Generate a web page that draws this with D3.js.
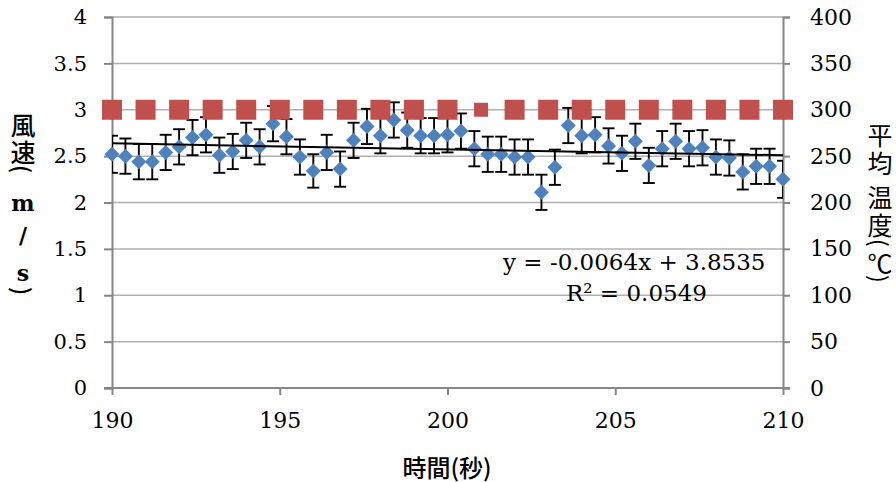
<!DOCTYPE html>
<html><head><meta charset="utf-8">
<script src="https://cdn.jsdelivr.net/npm/d3@7"></script>
<style>
html,body{margin:0;padding:0;background:#fff;}
svg{display:block;}
</style></head>
<body>
<svg id="chart" width="896" height="482"></svg>
<script>
// ---- data ----
const times = [190.0,190.4,190.8,191.2,191.6,192.0,192.4,192.8,193.2,193.6,194.0,194.4,194.8,195.2,195.6,196.0,196.4,196.8,197.2,197.6,198.0,198.4,198.8,199.2,199.6,200.0,200.4,200.8,201.2,201.6,202.0,202.4,202.8,203.2,203.6,204.0,204.4,204.8,205.2,205.6,206.0,206.4,206.8,207.2,207.6,208.0,208.4,208.8,209.2,209.6,210.0];
const windSpeed = [2.52,2.50,2.44,2.44,2.54,2.60,2.70,2.73,2.51,2.55,2.67,2.60,2.85,2.71,2.49,2.34,2.54,2.36,2.67,2.82,2.72,2.89,2.78,2.72,2.72,2.73,2.77,2.58,2.52,2.52,2.49,2.49,2.11,2.38,2.83,2.72,2.73,2.61,2.53,2.66,2.40,2.58,2.66,2.58,2.59,2.49,2.48,2.33,2.39,2.39,2.25];
const windError = [0.20,0.19,0.19,0.19,0.19,0.19,0.19,0.19,0.19,0.19,0.19,0.19,0.19,0.19,0.19,0.18,0.19,0.19,0.19,0.19,0.19,0.19,0.19,0.19,0.19,0.19,0.19,0.19,0.19,0.19,0.19,0.19,0.19,0.19,0.19,0.19,0.19,0.19,0.19,0.19,0.19,0.19,0.19,0.19,0.19,0.19,0.19,0.19,0.19,0.19,0.20];
const tempTimes = [190,191,192,193,194,195,196,197,198,199,200,201,202,203,204,205,206,207,208,209,210];
const avgTemp = [300,300,300,300,300,300,300,300,300,300,300,300,300,300,300,300,300,300,300,300,300];
const xTicks = [190,195,200,205,210];
const yLeftTicks = [0,0.5,1,1.5,2,2.5,3,3.5,4];
const yRightTicks = [0,50,100,150,200,250,300,350,400];
const trendSlope = -0.0064, trendIntercept = 3.8535, trendR2 = 0.0549;
const xTitle = "時間(秒)";
const leftTitle = ["風","速","(","m","/","s",")"];
const rightTitle = ["平","均","温","度","(","℃",")"];

// ---- layout ----
const L = 112, R = 783, T = 17, B = 388;
const svg = d3.select("#chart");
const x = d3.scaleLinear().domain([190,210]).range([L,R]);
const yL = d3.scaleLinear().domain([0,4]).range([B,T]);
const yR = d3.scaleLinear().domain([0,400]).range([B,T]);
const axisColor = "#868686";
const serif = "'DejaVu Serif', serif";
const cjk = "'Noto Sans CJK JP', sans-serif";

svg.append("defs").append("clipPath").attr("id","plotclip")
  .append("rect").attr("x",L).attr("y",T-2).attr("width",R-L).attr("height",B-T+4);

// gridlines
svg.append("g").selectAll("line").data(yLeftTicks.filter(d=>d>0)).join("line")
  .attr("x1",L).attr("x2",R).attr("y1",d=>yL(d)).attr("y2",d=>yL(d))
  .attr("stroke","#b0b0b0").attr("stroke-width",1.5);

// axes
const gx = svg.append("g").attr("transform",`translate(0,${B})`)
  .call(d3.axisBottom(x).tickValues(xTicks).tickSize(7).tickPadding(17).tickFormat(d3.format("d")));
const gl = svg.append("g").attr("transform",`translate(${L},0)`)
  .call(d3.axisLeft(yL).tickValues(yLeftTicks).tickSize(8).tickPadding(17).tickFormat(d=>String(d)));
const gr = svg.append("g").attr("transform",`translate(${R},0)`)
  .call(d3.axisRight(yR).tickValues(yRightTicks).tickSize(7).tickPadding(20).tickFormat(d=>String(d)));
[gx,gl,gr].forEach(g=>{
  g.select(".domain").attr("stroke",axisColor).attr("stroke-width",2);
  g.selectAll(".tick line").attr("stroke",axisColor).attr("stroke-width",2);
  g.selectAll(".tick text").attr("fill","#000").attr("font-family",serif).attr("font-size",22);
});
gl.selectAll(".tick text").attr("font-size",21);
gx.selectAll(".tick text").attr("dy","0.71em");
// extend x axis line across the y tick marks
gx.select(".domain").attr("d",`M${L-8},0H${R+7}`);

// error bars (clipped to plot area)
const eb = svg.append("g").attr("clip-path","url(#plotclip)")
  .attr("stroke","#000").attr("stroke-width",1.9).attr("fill","none");
windSpeed.forEach((v,i)=>{
  const cx = x(times[i]), e = windError[i];
  const y1 = yL(v+e), y2 = yL(v-e);
  eb.append("line").attr("x1",cx).attr("x2",cx).attr("y1",y1).attr("y2",y2);
  eb.append("line").attr("x1",cx-6).attr("x2",cx+6).attr("y1",y1).attr("y2",y1);
  eb.append("line").attr("x1",cx-6).attr("x2",cx+6).attr("y1",y2).attr("y2",y2);
});

// blue diamonds
svg.append("g").selectAll("path").data(windSpeed).join("path")
  .attr("transform",(d,i)=>`translate(${x(times[i])},${yL(d)})`)
  .attr("d",()=>{const s=7.5;return `M0,${-s}L${s},0L0,${s}L${-s},0Z`;})
  .attr("fill","#4F81BD");

// red squares
svg.append("g").selectAll("rect").data(avgTemp).join("rect")
  .each(function(d,i){
    const s = tempTimes[i]===201 ? 14 : 20;
    d3.select(this).attr("x",x(tempTimes[i])-s/2).attr("y",yR(d)-s/2).attr("width",s).attr("height",s);
  })
  .attr("fill","#C0504D");

// trend line
svg.append("line")
  .attr("x1",x(190)).attr("y1",yL(trendSlope*190+trendIntercept))
  .attr("x2",x(210)).attr("y2",yL(trendSlope*210+trendIntercept))
  .attr("stroke","#000").attr("stroke-width",2);

// equation text
svg.append("text").attr("x",503).attr("y",270).attr("font-family",serif).attr("font-size",23)
  .text(`y = -${Math.abs(trendSlope).toFixed(4)}x + ${trendIntercept.toFixed(4)}`);
svg.append("text").attr("x",566).attr("y",301).attr("font-family",serif).attr("font-size",23)
  .text(`R² = ${trendR2.toFixed(4)}`);

// x title
svg.append("text").attr("x",447).attr("y",466).attr("text-anchor","middle").attr("dominant-baseline","central")
  .attr("font-family",cjk).attr("font-size",24).attr("font-weight",500).text(xTitle);

// vertical titles: characters stacked, parentheses rotated
function vTitle(chars, cx, ys, opts){
  const g = svg.append("g");
  chars.forEach((c,i)=>{
    const isParen = c==="(" || c===")";
    const isLatin = /[a-z\/]/.test(c);
    const t = g.append("text")
      .attr("text-anchor","middle").attr("dominant-baseline","central")
      .attr("font-family", isLatin ? serif : cjk)
      .attr("font-weight", isLatin ? "bold" : opts.weight)
      .attr("font-size", isLatin ? 22 : (isParen ? 23 : opts.size))
      .text(c);
    if(isParen){
      t.attr("transform",`translate(${cx},${ys[i]}) rotate(90)`).attr("x",0).attr("y",0);
    } else {
      t.attr("x",cx).attr("y",ys[i]);
    }
  });
}
vTitle(leftTitle, 23, [124,151,169,203,235,273,291], {size:25, weight:500});
vTitle(rightTitle, 880, [134,162,196,224,243,262,279], {size:25, weight:400});
</script>
</body></html>
